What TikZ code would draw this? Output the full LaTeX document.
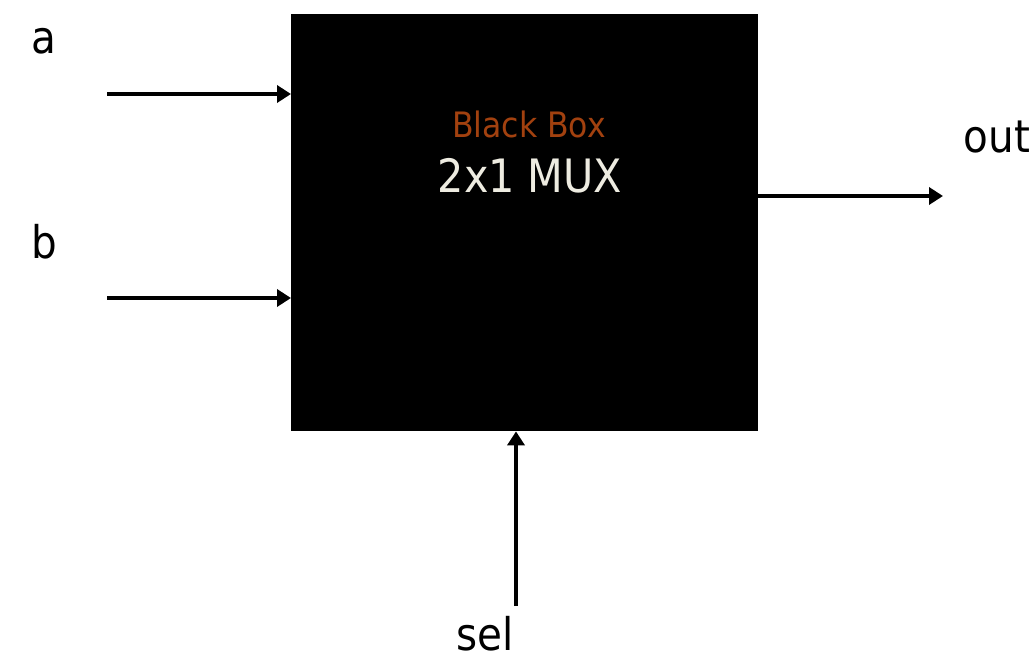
\documentclass[tikz,border=0pt]{standalone}
\usepackage{fontspec}
\setmainfont{DejaVu Sans Condensed}
\usetikzlibrary{arrows.meta}
\definecolor{bbrown}{HTML}{A2410F}
\definecolor{ivory}{HTML}{EEECE1}
\tikzset{
  sig/.style={line width=3.6pt,-{Triangle[length=14pt,width=17pt]}},
  lbl/.style={inner sep=0pt,anchor=base,font=\fontsize{45}{48}\selectfont},
}
\begin{document}
\begin{tikzpicture}[x=1pt,y=-1pt]
\useasboundingbox (0,0) rectangle (1034,656);
\fill[white] (0,0) rectangle (1034,656);
\node[fill=black,minimum width=467pt,minimum height=417pt,inner sep=0pt,anchor=north west] (box) at (291,14) {};
\node[inner sep=0pt,anchor=base,text=bbrown,font=\fontsize{35}{40}\selectfont] (t1) at (529,137) {Black Box};
\node[inner sep=0pt,anchor=base,text=ivory,font=\fontsize{46}{50}\selectfont] (t2) at (530,192) {2x1 MUX};
\node[lbl] (la) at (44,53) {a};
\node[lbl] (lb) at (44,258) {b};
\node[lbl] (lout) at (997,152) {out};
\node[lbl] (lsel) at (485,650) {sel};
\coordinate (sa) at (107,94);
\coordinate (sb) at (107,298);
\coordinate (eo) at (943,196);
\coordinate (ss) at (516,606);
\draw[sig] (sa) -- (sa -| box.west);
\draw[sig] (sb) -- (sb -| box.west);
\draw[sig] (eo -| box.east) -- (eo);
\draw[sig] (ss) -- (ss |- box.south);
\end{tikzpicture}
\end{document}
